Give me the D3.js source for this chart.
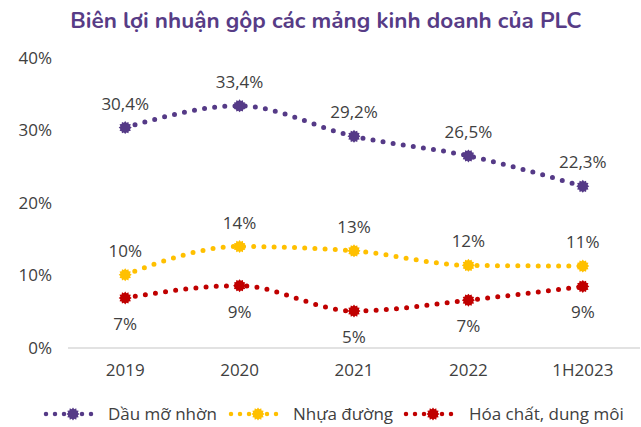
<!DOCTYPE html>
<html><head><meta charset="utf-8">
<script src="https://cdn.jsdelivr.net/npm/d3@7"></script>
<style>body{margin:0;background:#fff}svg{display:block}</style>
</head><body>
<svg id="c" width="641" height="427"></svg>
<script>
const categories = ["2019","2020","2021","2022","1H2023"];
const seriesNames = ["Dầu mỡ nhờn","Nhựa đường","Hóa chất, dung môi"];
const dauMoNhon = [30.4, 33.4, 29.2, 26.5, 22.3];
const nhuaDuong = [10.1, 14.0, 13.4, 11.4, 11.3];
const hoaChat = [6.9, 8.6, 5.1, 6.6, 8.5];
const labelsDau = ["30,4%","33,4%","29,2%","26,5%","22,3%"];
const labelsNhua = ["10%","14%","13%","12%","11%"];
const labelsHoa = ["7%","9%","5%","7%","9%"];
const yTicks = [0,10,20,30,40];
const title = "Biên lợi nhuận gộp các mảng kinh doanh của PLC";

const colors = ["#553a87","#ffc000","#c00000"];
const series = [
  {name: seriesNames[0], values: dauMoNhon, labels: labelsDau, pos: "above"},
  {name: seriesNames[1], values: nhuaDuong, labels: labelsNhua, pos: "above"},
  {name: seriesNames[2], values: hoaChat, labels: labelsHoa, pos: "below"}
];

const svg = d3.select("#c");
const font = "'Open Sans', sans-serif";
const x = d3.scaleBand().domain(categories).range([68, 640]);
const y = d3.scaleLinear().domain([0, 40]).range([348, 58]);
const cx = d => x(d) + x.bandwidth()/2;

svg.append("text").attr("x", 326).attr("y", 28).attr("text-anchor","middle")
  .attr("font-family","Nunito, Lato, sans-serif").attr("font-weight","bold").attr("font-size",22.5)
  .attr("fill","#573c86").text(title);

// baseline
svg.append("line").attr("x1",68).attr("x2",640).attr("y1",y(0)).attr("y2",y(0))
  .attr("stroke","#d9d9d9").attr("stroke-width",1.5);

// y axis labels
const yAxis = d3.axisLeft(y).tickValues(yTicks).tickFormat(d => d + "%").tickSize(0).tickPadding(0);
const ga = svg.append("g").attr("transform","translate(52,0)").call(yAxis);
ga.select(".domain").remove();
ga.selectAll("text").attr("font-family",font).attr("font-size",17).attr("fill","#404040");

// x axis labels
const xAxis = d3.axisBottom(x).tickSize(0).tickPadding(0);
const gx = svg.append("g").attr("transform","translate(0,364)").call(xAxis);
gx.select(".domain").remove();
gx.selectAll("text").attr("font-family",font).attr("font-size",17).attr("fill","#404040");

function starPath(r1, r2, n) {
  const pts = [];
  for (let i = 0; i < 2*n; i++) {
    const a = Math.PI * i / n;
    const r = i % 2 === 0 ? r1 : r2;
    pts.push([r*Math.sin(a), -r*Math.cos(a)]);
  }
  return "M" + pts.map(p => p[0].toFixed(2)+","+p[1].toFixed(2)).join("L") + "Z";
}
const marker = starPath(6.5, 5, 12);

const line = d3.line().x((d,i) => cx(categories[i])).y(d => y(d)).curve(d3.curveMonotoneX);

series.forEach((s, si) => {
  const g = svg.append("g");
  g.append("path").attr("d", line(s.values)).attr("fill","none")
    .attr("stroke", colors[si]).attr("stroke-width",5).attr("stroke-linecap","round")
    .attr("stroke-dasharray","0,10.2");
  g.selectAll("path.m").data(s.values).join("path").attr("class","m")
    .attr("d", marker).attr("fill", colors[si])
    .attr("transform",(d,i) => `translate(${cx(categories[i])},${y(d)})`);
  g.selectAll("text").data(s.values).join("text")
    .attr("x",(d,i) => cx(categories[i]))
    .attr("y", d => s.pos === "above" ? y(d) - 18 : y(d) + 32)
    .attr("text-anchor","middle").attr("font-family",font).attr("font-size",17)
    .attr("fill","#404040").text((d,i) => s.labels[i]);
});

// legend
const legendX = [46, 231, 406];
const legendTextX = [108, 293, 469];
const lg = svg.append("g").attr("transform","translate(0,414)");
series.forEach((s, si) => {
  const x0 = legendX[si];
  const g = lg.append("g");
  g.append("line").attr("x1",x0).attr("x2",x0+54).attr("y1",0).attr("y2",0)
    .attr("stroke",colors[si]).attr("stroke-width",4.5).attr("stroke-linecap","round")
    .attr("stroke-dasharray","0,9");
  g.append("path").attr("d", marker).attr("fill",colors[si]).attr("transform",`translate(${x0+27},0)`);
  g.append("text").attr("x",legendTextX[si]).attr("y",6).attr("font-family",font).attr("font-size",17)
    .attr("fill","#404040").text(s.name);
});
</script>
</body></html>
